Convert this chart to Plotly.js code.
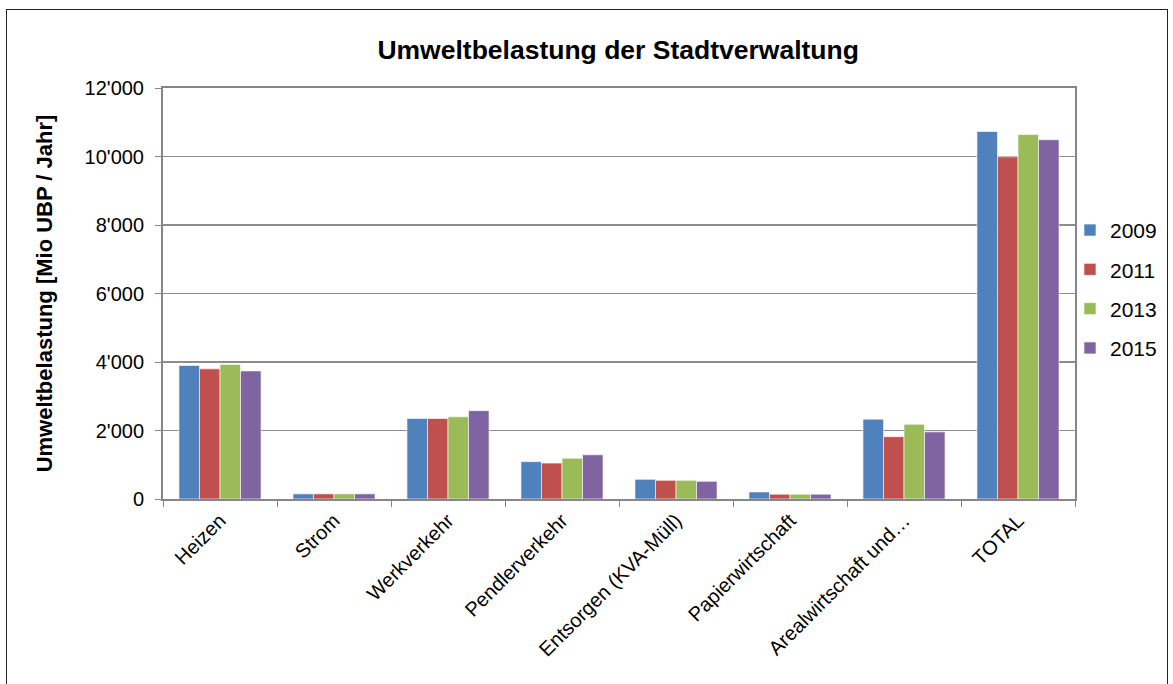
<!DOCTYPE html>
<html>
<head>
<meta charset="utf-8">
<script src="https://cdn.plot.ly/plotly-3.0.1.min.js"></script>
<style>
  html, body { margin: 0; padding: 0; background: #fff; }
  #chart { width: 1173px; height: 684px; }
  #frame { position: absolute; left: 6px; top: 9px; width: 1160px; height: 690px; border: 1px solid #222; pointer-events: none; }
</style>
</head>
<body>
<div id="chart"></div>
<div id="frame"></div>
<script>
const categories = ["Heizen", "Strom", "Werkverkehr", "Pendlerverkehr", "Entsorgen (KVA-Müll)", "Papierwirtschaft", "Arealwirtschaft und…", "TOTAL"];
const years = ["2009", "2011", "2013", "2015"];
const values2009 = [3900, 150, 2350, 1090, 575, 205, 2330, 10730];
const values2011 = [3800, 150, 2350, 1050, 546, 140, 1820, 9990];
const values2013 = [3930, 150, 2400, 1190, 546, 140, 2180, 10640];
const values2015 = [3740, 150, 2580, 1290, 517, 140, 1960, 10490];
const seriesValues = [values2009, values2011, values2013, values2015];
const colors = ["#4F81BD", "#C0504D", "#9BBB59", "#8064A2"];

const traces = years.map((y, i) => ({
  type: "bar",
  name: y,
  x: categories,
  y: seriesValues[i],
  legendgroup: y,
  marker: { color: colors[i], line: { color: "rgba(255,255,255,0.6)", width: 1 } },
  hoverinfo: "x+y+name"
}));

const layout = {
  width: 1173,
  height: 684,
  paper_bgcolor: "#fff",
  plot_bgcolor: "#fff",
  separators: ".'",
  font: { family: "Liberation Sans, Arial, sans-serif", size: 20, color: "#000" },
  title: { text: "<b>Umweltbelastung der Stadtverwaltung</b>", x: 0.527, xanchor: "center", y: 0.928, yanchor: "middle", font: { size: 26.5, color: "#000" } },
  margin: { l: 163, r: 98, t: 88, b: 185, autoexpand: false },
  barmode: "group",
  bargap: 0.28,
  bargroupgap: 0,
  xaxis: {
    type: "category",
    tickangle: -45,
    tickson: "boundaries",
    ticks: "outside",
    ticklen: 6,
    tickcolor: "#868686",
    tickwidth: 1,
    showline: true,
    linecolor: "#868686",
    linewidth: 2,
    mirror: true,
    showgrid: false,
    automargin: false,
    tickfont: { size: 20 }
  },
  yaxis: {
    range: [0, 12000],
    dtick: 2000,
    tickformat: ",d",
    ticks: "outside",
    ticklen: 6,
    tickcolor: "#868686",
    ticklabelstandoff: 7,
    showline: true,
    linecolor: "#868686",
    linewidth: 2,
    mirror: true,
    showgrid: true,
    gridcolor: "#8c8c8c",
    gridwidth: 1.5,
    zeroline: false,
    automargin: false,
    tickfont: { size: 20 },
    title: { text: "<b>Umweltbelastung [Mio UBP / Jahr]</b>", font: { size: 22 }, standoff: 26 }
  },
  legend: {
    x: 0.9945, xanchor: "left",
    y: 0.51, yanchor: "middle",
    font: { size: 21 },
    tracegroupgap: 9,
    itemwidth: 30,
    bgcolor: "rgba(0,0,0,0)"
  },
  showlegend: true
};

Plotly.newPlot("chart", traces, layout, { displayModeBar: false, staticPlot: true });
</script>
</body>
</html>
